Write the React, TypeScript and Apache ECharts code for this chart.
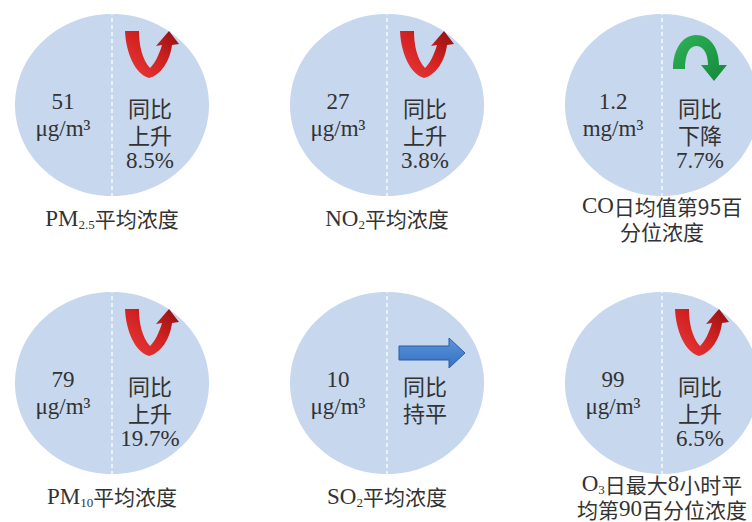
import React, { useEffect, useRef } from "react";
import * as echarts from "echarts";

// ---- data ----
const pollutants = ["PM2.5", "NO2", "CO", "PM10", "SO2", "O3"];
const values = [51, 27, 1.2, 79, 10, 99];
const units = ["μg/m³", "μg/m³", "mg/m³", "μg/m³", "μg/m³", "μg/m³"];
const changes = [8.5, 3.8, -7.7, 19.7, 0, 6.5];
const labels = [
  "{s|PM}{sub|2.5}{c|平均浓度}",
  "{s|NO}{sub|2}{c|平均浓度}",
  "{s|CO}{c|日均值第95百}\n{c|分位浓度}",
  "{s|PM}{sub|10}{c|平均浓度}",
  "{s|SO}{sub|2}{c|平均浓度}",
  "{s|O}{sub|3}{c|日最大}{s|8}{c|小时平}\n{c|均第}{s|90}{c|百分位浓度}",
];
const cols = [0, 1, 2, 0, 1, 2];
const rows = [0, 0, 0, 1, 1, 1];

// ---- styles ----
const SERIF = "'Liberation Serif', 'Times New Roman', serif";
const CJK = "'Noto Sans CJK SC', 'Noto Sans', sans-serif";
const TXT = "#333333";
const CIRCLE = "#c6d7ee";

const RED_D =
  "M0 0 L14 0 C14 14 17 28 25 37 C30 32 34 24 37 14 L31 15 L44 0 L54 13 L47 14 C45 30 36 44 24 47 C10 43 1 22 0 0 Z";
const GREEN_D =
  "M0 34 C0 14 10 0 23 0 C37 0 46 13 46 30 L54 30 L41 46 L28 30 L35 30 C35 18 30 11 23 11 C16 11 12 20 12 34 Z";
const BLUE_D = "M0 8 L50 8 L50 0 L66 15 L50 30 L50 22 L0 22 Z";

export default function App() {
  const ref = useRef<HTMLDivElement>(null);

  useEffect(() => {
    if (!ref.current) return;
    const chart = echarts.init(ref.current, undefined, { renderer: "svg" });

    const data = pollutants.map((p, i) => [cols[i], rows[i]]);

    const renderItem = (params: any, api: any) => {
      const i = params.dataIndex;
      const pt = api.coord([api.value(0), api.value(1)]);
      const cx = pt[0];
      const cy = pt[1];
      const c = changes[i];
      const children: any[] = [];

      children.push({
        type: "ellipse",
        shape: { cx, cy, rx: 97, ry: 91 },
        style: { fill: CIRCLE },
      });
      children.push({
        type: "line",
        shape: { x1: cx, y1: cy - 101, x2: cx, y2: cy + 91 },
        style: { stroke: "#ffffff", lineWidth: 1.3, lineDash: [4, 3] },
      });

      // arrow
      if (c > 0) {
        children.push({
          type: "path",
          shape: { pathData: RED_D, x: cx + 13, y: cy - 74, width: 54, height: 47 },
          style: {
            fill: new echarts.graphic.LinearGradient(0, 1, 1, 0, [
              { offset: 0, color: "#ec3b3b" },
              { offset: 0.55, color: "#d02020" },
              { offset: 1, color: "#8e1010" },
            ]),
          },
        });
      } else if (c < 0) {
        children.push({
          type: "path",
          shape: { pathData: GREEN_D, x: cx + 11, y: cy - 70, width: 54, height: 46 },
          style: {
            fill: new echarts.graphic.LinearGradient(0, 0, 1, 1, [
              { offset: 0, color: "#2fb257" },
              { offset: 1, color: "#14883a" },
            ]),
          },
        });
      } else {
        children.push({
          type: "path",
          shape: { pathData: BLUE_D, x: cx + 12, y: cy - 45, width: 66, height: 30 },
          style: {
            fill: new echarts.graphic.LinearGradient(0, 0, 0, 1, [
              { offset: 0, color: "#5b95db" },
              { offset: 1, color: "#3470c2" },
            ]),
            stroke: "#2c5da3",
            lineWidth: 1,
          },
        });
      }

      // left: value + unit
      children.push({
        type: "text",
        x: cx - 49,
        y: cy - 17,
        style: {
          text: `{n|${values[i]}}\n{n|${units[i]}}`,
          align: "center",
          verticalAlign: "top",
          fill: TXT,
          rich: {
            n: { fontFamily: SERIF, fontSize: 23, lineHeight: 27, fill: TXT, align: "center" },
          },
        },
      });

      // right: trend text
      const word = c > 0 ? "上升" : c < 0 ? "下降" : "持平";
      const trend =
        c === 0
          ? `{c|同比}\n{c|${word}}`
          : `{c|同比}\n{c|${word}}\n{n|${Math.abs(c).toFixed(1)}%}`;
      children.push({
        type: "text",
        x: cx + 38,
        y: cy - 12,
        style: {
          text: trend,
          align: "center",
          verticalAlign: "top",
          fill: TXT,
          rich: {
            c: { fontFamily: CJK, fontSize: 22, lineHeight: 27, fill: TXT, align: "center" },
            n: { fontFamily: SERIF, fontSize: 23, lineHeight: 27, fill: TXT, align: "center" },
          },
        },
      });

      // label under circle
      children.push({
        type: "text",
        x: cx,
        y: cy + 113,
        style: {
          text: labels[i],
          align: "center",
          verticalAlign: "middle",
          fill: TXT,
          rich: {
            s: { fontFamily: SERIF, fontSize: 23, lineHeight: 25, fill: TXT },
            c: { fontFamily: CJK, fontSize: 21, lineHeight: 25, fill: TXT },
            sub: {
              fontFamily: SERIF,
              fontSize: 13,
              lineHeight: 12,
              verticalAlign: "bottom",
              fill: TXT,
            },
          },
        },
      });

      return { type: "group", children };
    };

    chart.setOption({
      animation: false,
      backgroundColor: "#ffffff",
      grid: { left: 112, right: 90, top: 105, bottom: 139 },
      xAxis: { type: "value", min: 0, max: 2, show: false },
      yAxis: { type: "value", min: 0, max: 1, inverse: true, show: false },
      series: [
        {
          type: "custom",
          coordinateSystem: "cartesian2d",
          renderItem,
          data,
          clip: false,
          encode: { x: 0, y: 1 },
        },
      ],
    });

    return () => chart.dispose();
  }, []);

  return (
    <div
      ref={ref}
      style={{ position: "fixed", left: 0, top: 0, width: 752, height: 522 }}
    />
  );
}
